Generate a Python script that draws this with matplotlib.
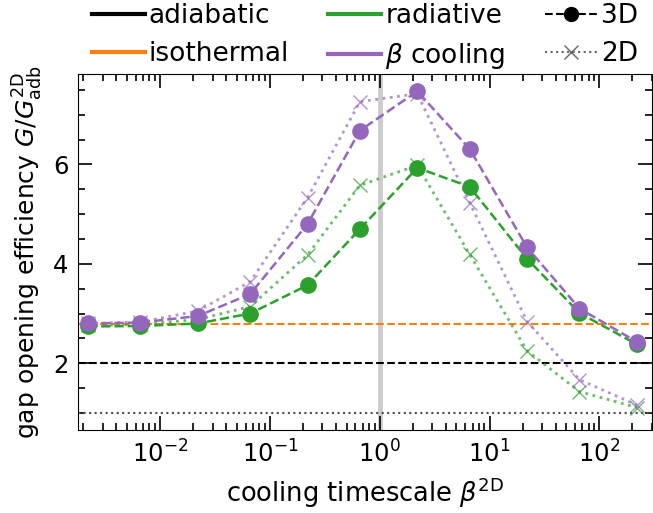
import matplotlib
matplotlib.use('Agg')
import matplotlib.pyplot as plt
from matplotlib.lines import Line2D
from matplotlib.ticker import AutoMinorLocator, LogLocator

# cooling timescale beta^2D
beta = [0.0022, 0.0066, 0.022, 0.066, 0.22, 0.66, 2.2, 6.6, 22, 66, 220]

# gap opening efficiency G / G_adb^2D
rad_3d = [2.74, 2.75, 2.80, 3.00, 3.57, 4.70, 5.93, 5.55, 4.10, 3.01, 2.38]
beta_3d = [2.80, 2.82, 2.95, 3.39, 4.80, 6.68, 7.47, 6.31, 4.33, 3.10, 2.43]
rad_2d = [2.76, 2.78, 2.88, 3.14, 4.18, 5.58, 5.98, 4.19, 2.25, 1.43, 1.11]
beta_2d = [2.80, 2.83, 3.05, 3.64, 5.33, 7.26, 7.42, 5.23, 2.84, 1.67, 1.16]

adb_3d = 2.0
adb_2d = 1.0
iso_3d = 2.79

plt.rcParams['font.size'] = 18

fig = plt.figure(figsize=(6.53, 5.13), dpi=100)
ax = fig.add_axes([0.120, 0.161, 0.878, 0.695])

ax.axvline(1.0, color='0.8', lw=3.5, zorder=0)
ax.axhline(adb_3d, color='k', ls='--', lw=1.5)
ax.axhline(adb_2d, color='0.3', ls=':', lw=1.5)
ax.axhline(iso_3d, color='C1', ls='--', lw=1.5)

ax.plot(beta, rad_2d, ls=':', marker='x', color='C2', alpha=0.7, lw=2, ms=10, mew=1)
ax.plot(beta, beta_2d, ls=':', marker='x', color='C4', alpha=0.7, lw=2, ms=10, mew=1)
ax.plot(beta, rad_3d, ls='--', marker='o', color='C2', lw=1.8, ms=11)
ax.plot(beta, beta_3d, ls='--', marker='o', color='C4', lw=1.8, ms=11)

ax.set_xscale('log')
ax.set_xlim(1.8e-3, 300)
ax.set_ylim(0.65, 7.82)
ax.xaxis.set_minor_locator(LogLocator(subs=range(2, 10), numticks=20))
ax.yaxis.set_minor_locator(AutoMinorLocator(4))
ax.set_yticks([2, 4, 6])
ax.tick_params(which='both', direction='in', top=True, right=True, width=1.2,
               labelsize=17.5)
ax.tick_params(which='major', length=10, pad=7)
ax.tick_params(which='minor', length=5)

ax.set_xlabel(r'cooling timescale $\beta^\mathrm{2D}$', fontsize=18.5, labelpad=6)
ax.set_ylabel(r'gap opening efficiency $G/G_\mathrm{adb}^\mathrm{2D}$', fontsize=18,
              labelpad=6)

handles = [
    Line2D([], [], color='k', lw=3),
    Line2D([], [], color='C1', lw=3),
    Line2D([], [], color='C2', lw=3),
    Line2D([], [], color='C4', lw=3),
    Line2D([], [], color='k', ls='--', marker='o', lw=1.5, ms=10),
    Line2D([], [], color='0.4', ls=':', marker='x', lw=1.5, ms=10),
]
labels = ['adiabatic', 'isothermal', 'radiative', r'$\beta$ cooling', '3D', '2D']
ax.legend(handles, labels, ncol=3, loc='lower center', bbox_to_anchor=(0.5, 1.0),
          frameon=False, fontsize=19, handletextpad=0.15, columnspacing=1.5,
          labelspacing=0.45, borderaxespad=0.0, borderpad=0.1)

fig.savefig('out.png', dpi=100)
